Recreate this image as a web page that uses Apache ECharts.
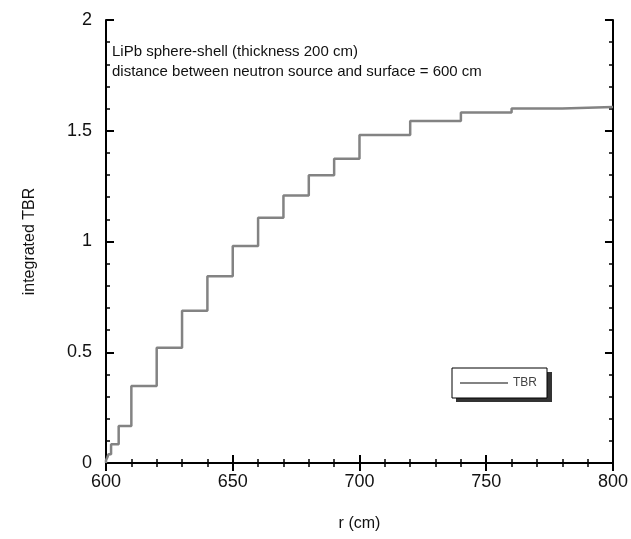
<!DOCTYPE html>
<html><head><meta charset="utf-8">
<script src="https://cdn.jsdelivr.net/npm/echarts@6/dist/echarts.min.js"></script>
<style>html,body{margin:0;padding:0;background:#fff}#c{width:631px;height:539px}</style>
</head><body><div id="c"></div>
<script>
// bin edges (cm) and integrated TBR value in each bin
const binEdges = [600, 600.5, 601, 602, 605, 610, 620, 630, 640, 650, 660, 670, 680, 690, 700, 720, 740, 760, 780, 800];
const tbrValues = [0.012, 0.025, 0.04, 0.085, 0.167, 0.348, 0.52, 0.687, 0.843, 0.98, 1.107, 1.208, 1.299, 1.374, 1.481, 1.544, 1.582, 1.600, 1.607];
const xTicks = [600, 650, 700, 750, 800];
const yTicks = [0, 0.5, 1, 1.5, 2];
const noteLines = ['LiPb sphere-shell (thickness 200 cm)', 'distance between neutron source and surface = 600 cm'];

const pts = [[binEdges[0], 0]];
for (let i = 0; i < tbrValues.length; i++) pts.push([binEdges[i], tbrValues[i]]);
pts.push([binEdges[binEdges.length - 1], tbrValues[tbrValues.length - 1]]);

const FONT = 'Liberation Sans, Arial, sans-serif';
const axLine = {show: true, lineStyle: {color: '#000', width: 2}};
function tick(len){return {show: true, inside: true, length: len, lineStyle: {color: '#000', width: 2}};}
function minor(len){return {show: true, splitNumber: 5, length: len, lineStyle: {color: '#000', width: 1.5}};}

const chart = echarts.init(document.getElementById('c'));
chart.setOption({
  animation: false,
  grid: {left: 106, right: 13, top: 20, bottom: 76, containLabel: false},
  xAxis: [{
    type: 'value', min: xTicks[0], max: xTicks[xTicks.length-1], interval: 50,
    name: 'r (cm)', nameLocation: 'middle', nameGap: 53,
    nameTextStyle: {fontFamily: FONT, fontSize: 16, color: '#111'},
    axisLine: axLine, axisTick: tick(8), minorTick: minor(4),
    splitLine: {show: false},
    axisLabel: {fontFamily: FONT, fontSize: 18, color: '#111', margin: 10}
  }, {
    type: 'value', position: 'top', min: xTicks[0], max: xTicks[xTicks.length-1], interval: 50,
    axisLine: axLine, axisTick: tick(8), minorTick: minor(4),
    splitLine: {show: false}, axisLabel: {show: false}
  }],
  yAxis: [{
    type: 'value', min: yTicks[0], max: yTicks[yTicks.length-1], interval: 0.5,
    name: 'integrated TBR', nameLocation: 'middle', nameGap: 68,
    nameTextStyle: {fontFamily: FONT, fontSize: 16, color: '#111'},
    axisLine: axLine, axisTick: tick(8), minorTick: minor(4),
    splitLine: {show: false},
    axisLabel: {fontFamily: FONT, fontSize: 18, color: '#111', margin: 14}
  }, {
    type: 'value', position: 'right', min: yTicks[0], max: yTicks[yTicks.length-1], interval: 0.5,
    axisLine: axLine, axisTick: tick(8), minorTick: minor(4),
    splitLine: {show: false}, axisLabel: {show: false}
  }],
  legend: {
    left: 452, top: 368, orient: 'horizontal', z: 10,
    backgroundColor: '#fff', borderColor: '#000', borderWidth: 1,
    padding: [9, 10, 9, 8],
    itemWidth: 48, itemHeight: 2, itemGap: 4,
    textStyle: {fontFamily: 'Liberation Sans Narrow, Liberation Sans, sans-serif', fontSize: 12, color: '#444'},
    data: [{name: 'TBR', icon: 'rect'}]
  },
  graphic: [{
    type: 'rect', left: 456, top: 372, z: 1,
    shape: {width: 96, height: 30},
    style: {fill: '#333'}
  }, {
    type: 'text', left: 112, top: 42,
    style: {text: noteLines.join('\n'), font: '15px ' + FONT, fill: '#111', lineHeight: 20}
  }],
  series: [{
    name: 'TBR', type: 'line', step: 'end', data: pts,
    showSymbol: false, symbol: 'none',
    lineStyle: {color: '#838383', width: 2.5},
    itemStyle: {color: '#838383'}
  }]
});
</script></body></html>
